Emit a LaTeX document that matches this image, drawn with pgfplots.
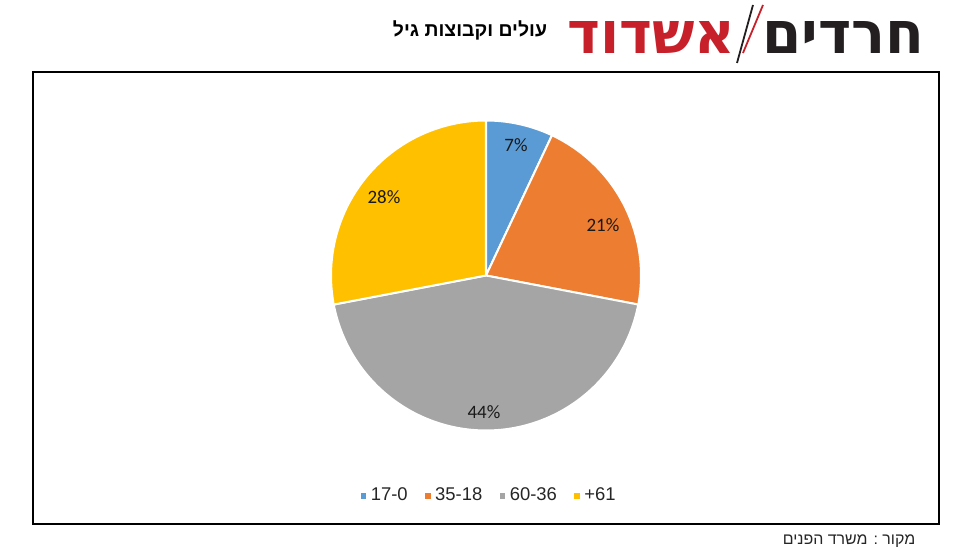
\documentclass[border=0pt]{standalone}
\usepackage{fontspec}
\usepackage{pgfplots}
\pgfplotsset{compat=1.18}
\setmainfont{Liberation Sans}
\newfontfamily\heb[Script=Hebrew]{Liberation Sans}
\newfontfamily\hebheavy[Script=Hebrew]{DejaVu Sans}
\newfontfamily\carl{Carlito}
\TeXXeTstate=1
\definecolor{cA}{HTML}{5B9BD5}
\definecolor{cB}{HTML}{ED7D31}
\definecolor{cC}{HTML}{A5A5A5}
\definecolor{cD}{HTML}{FFC000}
\definecolor{logored}{HTML}{C8202A}
\definecolor{logoblack}{HTML}{231F20}
% percentages of the four age groups
\def\pA{7}\def\pB{21}\def\pC{44}\def\pD{28}
\def\cx{486}\def\cy{278.5}\def\rr{155}
\begin{document}
\begin{tikzpicture}
\useasboundingbox (0,0) rectangle (965bp,554bp);
\fill[white] (0,0) rectangle (965bp,554bp);
\begin{axis}[
  x=1bp, y=1bp, xmin=0, xmax=965, ymin=0, ymax=554,
  scale only axis, hide axis, clip=false,
  legend columns=4,
  legend style={draw=none, fill=none, at={(axis cs:489,59)}, anchor=center,
    font=\fontsize{18.5}{20}\selectfont, text=black!85,
    /tikz/every odd column/.append style={column sep=3bp},
    /tikz/every even column/.append style={column sep=16bp},
    nodes={inner sep=1.5bp}},
  legend image code/.code={\fill[#1,draw=none] (0bp,-3.5bp) rectangle (5.5bp,2bp);},
]
\addplot[fill=cA, draw=white, line width=2bp, line join=round, domain=90:{90-3.6*\pA}, samples=40]
  ({\cx+\rr*cos(x)},{\cy+\rr*sin(x)}) -- (\cx,\cy) -- cycle;
\addlegendentry{17-0}
\addplot[fill=cB, draw=white, line width=2bp, line join=round, domain={90-3.6*\pA}:{90-3.6*(\pA+\pB)}, samples=60]
  ({\cx+\rr*cos(x)},{\cy+\rr*sin(x)}) -- (\cx,\cy) -- cycle;
\addlegendentry{35-18}
\addplot[fill=cC, draw=white, line width=2bp, line join=round, domain={90-3.6*(\pA+\pB)}:{90-3.6*(\pA+\pB+\pC)}, samples=100]
  ({\cx+\rr*cos(x)},{\cy+\rr*sin(x)}) -- (\cx,\cy) -- cycle;
\addlegendentry{60-36}
\addplot[fill=cD, draw=white, line width=2bp, line join=round, domain={90-3.6*(\pA+\pB+\pC)}:{90-3.6*(\pA+\pB+\pC+\pD)}, samples=70]
  ({\cx+\rr*cos(x)},{\cy+\rr*sin(x)}) -- (\cx,\cy) -- cycle;
\addlegendentry{+61}
% data labels
\node[font=\carl\fontsize{19}{21}\selectfont, text=black!90] at (516,409) {\pA\%};
\node[font=\carl\fontsize{19}{21}\selectfont, text=black!90] at (603,329) {\pB\%};
\node[font=\carl\fontsize{19}{21}\selectfont, text=black!90] at (484,142) {\pC\%};
\node[font=\carl\fontsize{19}{21}\selectfont, text=black!90] at (384,357) {\pD\%};
% frame
\draw[line width=2bp, black] (33,482) rectangle (939,30);
% title
\node[font=\heb\bfseries\fontsize{19.5}{22}\selectfont, inner sep=0pt] at (470,524) {\beginR עולים וקבוצות גיל\endR};
% source
\node[font=\heb\fontsize{16}{18}\selectfont, inner sep=0pt, text=black!85] at (849,13) {\beginR מקור : משרד הפנים\endR};
% logo
\node[inner sep=0pt, anchor=south west, text=logored] at (567,500) {\resizebox{168bp}{32bp}{\hebheavy\bfseries\beginR אשדוד\endR}};
\node[inner sep=0pt, anchor=south west, text=logoblack] at (762,500) {\resizebox{162bp}{32bp}{\hebheavy\bfseries\beginR חרדים\endR}};
\draw[logoblack, line width=1.8bp] (737,491) -- (753,549);
\draw[logored, line width=1.8bp] (743,501) -- (763,549);
\end{axis}
\end{tikzpicture}
\end{document}
